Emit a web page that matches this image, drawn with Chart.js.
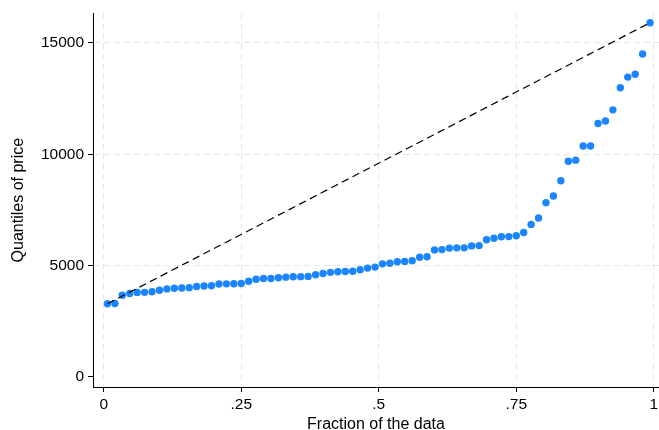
<!DOCTYPE html>
<html>
<head>
<meta charset="utf-8">
<script src="https://cdn.jsdelivr.net/npm/chart.js@4.4.1/dist/chart.umd.min.js"></script>
<style>
  html, body { margin: 0; padding: 0; background: #fff; }
  #wrap { width: 659px; height: 430px; }
</style>
</head>
<body>
<div id="wrap"><canvas id="grafico" width="659" height="430"></canvas></div>
<script>
// Precios ordenados (cuantiles de price)
const precios = [3291, 3299, 3667, 3748, 3798, 3799, 3829, 3895, 3955, 3984,
  3995, 4010, 4060, 4082, 4099, 4172, 4181, 4187, 4195, 4296,
  4389, 4424, 4425, 4453, 4482, 4499, 4504, 4516, 4589, 4647,
  4697, 4723, 4733, 4749, 4816, 4890, 4934, 5079, 5104, 5172,
  5189, 5222, 5379, 5397, 5705, 5719, 5788, 5798, 5799, 5886,
  5899, 6165, 6229, 6295, 6303, 6342, 6486, 6850, 7140, 7827,
  8129, 8814, 9690, 9735, 10371, 10372, 11385, 11497, 11995, 12990,
  13466, 13594, 14500, 15906];
// Fracción de los datos: (i - 0.5) / n
const fracciones = precios.map((p, i) => (i + 0.5) / precios.length);

const ticksX = [0, 0.25, 0.5, 0.75, 1];
const etiquetasX = ['0', '.25', '.5', '.75', '1'];
const ticksY = [0, 5000, 10000, 15000];

const puntos = precios.map((p, i) => ({ x: fracciones[i], y: p }));
const n = precios.length;
const referencia = [
  { x: fracciones[0], y: precios[0] },
  { x: fracciones[n - 1], y: precios[n - 1] }
];

const fuenteTicks = { family: 'Liberation Sans, Arial, sans-serif', size: 15.5 };
const fuenteTitulo = { family: 'Liberation Sans, Arial, sans-serif', size: 16 };
const gris = '#e6e6e6';

const ctx = document.getElementById('grafico').getContext('2d');
new Chart(ctx, {
  type: 'scatter',
  data: {
    datasets: [
      {
        label: 'price',
        data: puntos,
        backgroundColor: '#1a85ff',
        borderWidth: 0,
        pointRadius: 3.7,
        order: 2
      },
      {
        label: 'ref',
        type: 'line',
        data: referencia,
        borderColor: '#000',
        borderWidth: 1.2,
        borderDash: [7.5, 4.5],
        pointRadius: 0,
        fill: false,
        order: 1
      }
    ]
  },
  options: {
    responsive: false,
    animation: false,
    layout: { autoPadding: false, padding: { top: 12, right: 0, left: 0, bottom: 0 } },
    plugins: {
      legend: { display: false },
      tooltip: { enabled: false }
    },
    scales: {
      x: {
        type: 'linear',
        min: -0.0195,
        max: 1.0095,
        afterBuildTicks: s => { s.ticks = ticksX.map(v => ({ value: v })); },
        afterFit: s => { s.height = 43; s.paddingRight = 0; s.paddingLeft = 0; },
        ticks: {
          color: '#000',
          font: fuenteTicks,
          padding: 3,
          maxRotation: 0,
          callback: (v) => etiquetasX[ticksX.indexOf(v)]
        },
        grid: {
          color: gris,
          tickColor: '#000',
          tickLength: 5,
          drawTicks: true
        },
        border: { display: true, color: '#000', width: 1, dash: [6, 4] },
        title: {
          display: true,
          text: 'Fraction of the data',
          color: '#000',
          font: fuenteTitulo,
          padding: { top: 0, bottom: -4 }
        }
      },
      y: {
        type: 'linear',
        min: -450,
        max: 16330,
        afterBuildTicks: s => { s.ticks = ticksY.map(v => ({ value: v })); },
        afterFit: s => { s.width = 93; },
        ticks: {
          color: '#000',
          font: fuenteTicks,
          padding: 4,
          callback: (v) => String(v)
        },
        grid: {
          color: c => (c.tick && c.tick.value === 0) ? 'rgba(0,0,0,0)' : gris,
          tickColor: '#000',
          tickLength: 5,
          drawTicks: true
        },
        border: { display: true, color: '#000', width: 1, dash: [6, 4] },
        title: {
          display: true,
          text: 'Quantiles of price',
          color: '#000',
          font: fuenteTitulo,
          padding: { top: 8.5, bottom: 0 }
        }
      }
    }
  }
});
</script>
</body>
</html>
